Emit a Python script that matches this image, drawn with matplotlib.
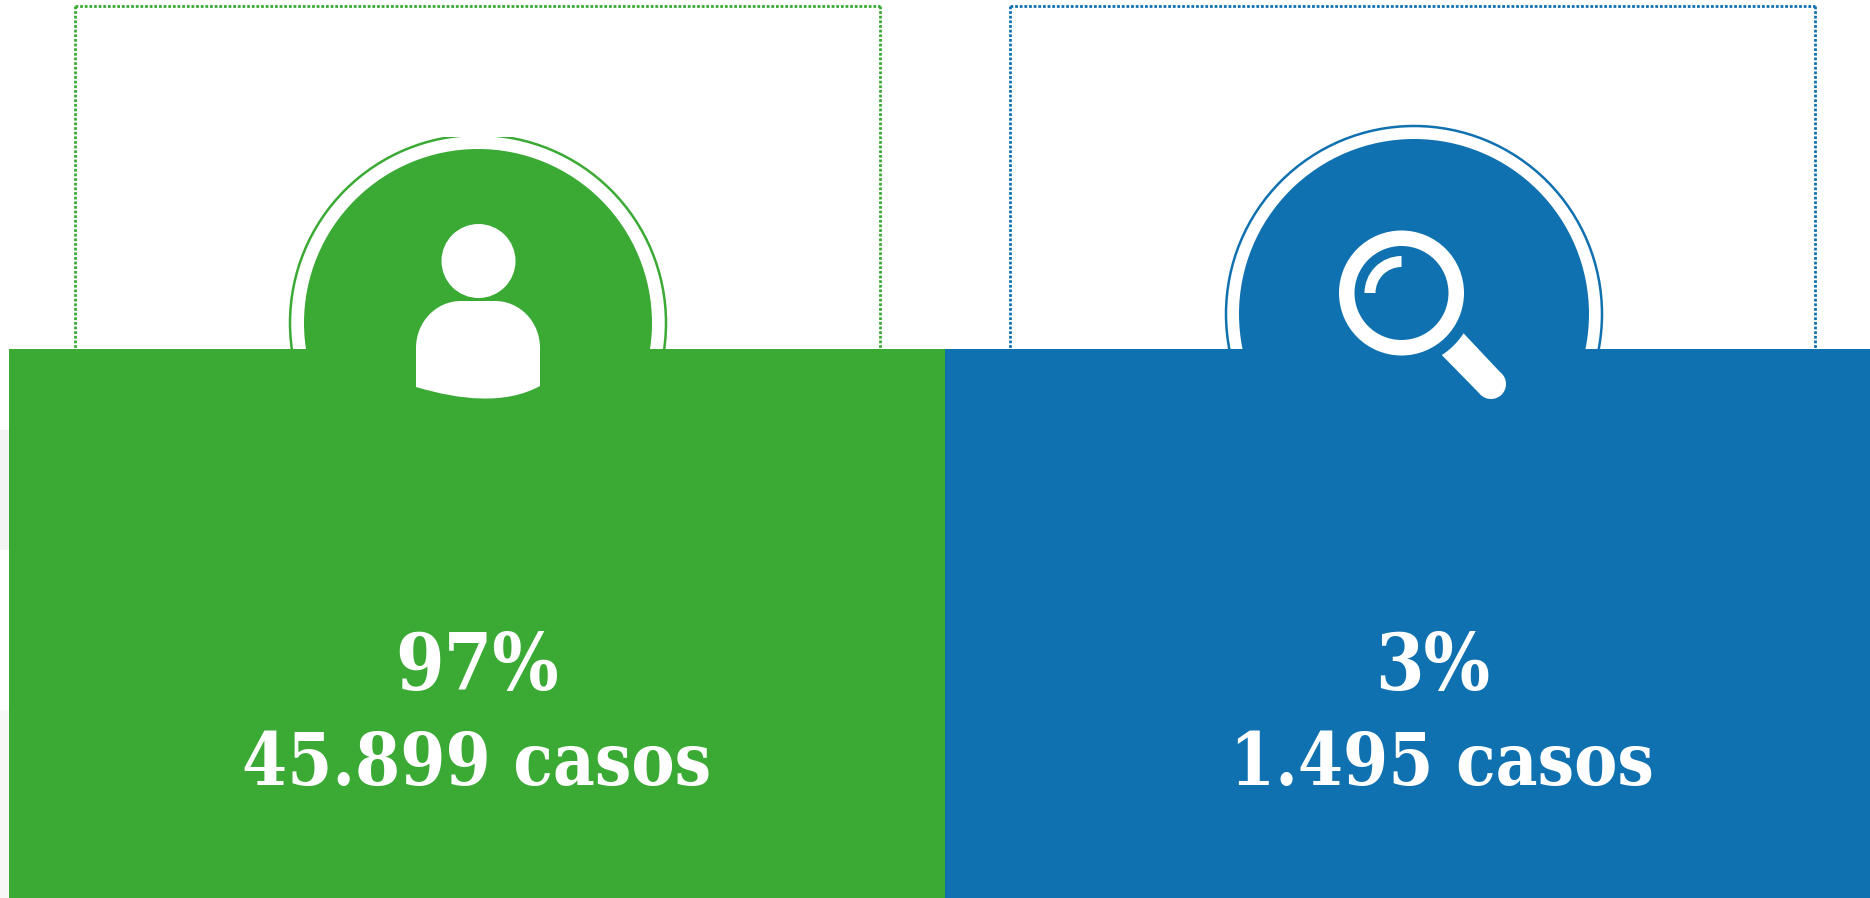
import matplotlib
matplotlib.use("Agg")
import matplotlib.pyplot as plt
import numpy as np
from matplotlib.patches import Rectangle, Circle, Wedge, PathPatch, Polygon
from matplotlib.path import Path

percent_labels = ["97%", "3%"]
case_labels = ["45.899 casos", "1.495 casos"]

GREEN = "#3AAA35"
BLUE = "#1071B0"
W, H = 1870, 898

fig = plt.figure(figsize=(18.70, 8.98), dpi=100, facecolor="white")
ax = fig.add_axes([0, 0, 1, 1])
ax.set_xlim(0, W)
ax.set_ylim(H, 0)
ax.axis("off")

# faint watermark remnants at the far left edge
ax.add_patch(Rectangle((0, 430), 9, 120, fc="#F4F4F4", ec="none", zorder=0))
ax.add_patch(Rectangle((0, 710), 9, 188, fc="#F7F7F7", ec="none", zorder=0))


def panel(px0, px1, bx0, bx1, color, cx, cy, ro, ro_cy, ri, clip_top, tx1, tx2, pct, cases):
    dots = (0, (1.0, 0.67))
    ax.plot([bx0, bx1], [5.5, 5.5], color=color, lw=2.0, ls=dots, zorder=1)
    ax.plot([bx0, bx0], [5.5, 349], color=color, lw=2.0, ls=dots, zorder=1)
    ax.plot([bx1, bx1], [5.5, 349], color=color, lw=2.0, ls=dots, zorder=1)
    ring = Circle((cx, ro_cy), ro, fc="none", ec=color, lw=1.8, zorder=2)
    ax.add_patch(ring)
    if clip_top:
        ring.set_clip_path(Rectangle((0, clip_top), W, H, transform=ax.transData))
    ax.add_patch(Circle((cx, cy), ri, fc=color, ec="none", zorder=3))
    ax.add_patch(Rectangle((px0, 349), px1 - px0, H - 349, fc=color, ec="none", zorder=3))
    ax.text(tx1, 690, pct, color="white", fontsize=56, family="DejaVu Serif",
            stretch="condensed", weight="bold", ha="center", va="baseline", zorder=5)
    ax.text(tx2, 785, cases, color="white", fontsize=52, family="DejaVu Serif",
            stretch="condensed", weight="bold", ha="center", va="baseline", zorder=5)


panel(9, 945, 74.5, 880, GREEN, 478, 323, 188, 323, 174, 137, 477, 477, percent_labels[0], case_labels[0])
panel(945, W, 1010, 1815, BLUE, 1414, 314, 188, 314, 175, None, 1432.5, 1442, percent_labels[1], case_labels[1])

# person icon
ax.add_patch(Circle((478.5, 261), 37, fc="white", ec="none", zorder=4))
body = [(416, 387), (416, 348), (416, 322), (436, 301), (461, 301), (495, 301),
        (520, 301), (540, 322), (540, 348), (540, 386), (505, 405), (460, 400), (416, 387)]
codes = [Path.MOVETO, Path.LINETO, Path.CURVE4, Path.CURVE4, Path.CURVE4, Path.LINETO,
         Path.CURVE4, Path.CURVE4, Path.CURVE4, Path.LINETO, Path.CURVE4, Path.CURVE4, Path.CURVE4]
ax.add_patch(PathPatch(Path(body, codes), fc="white", ec="none", zorder=4))

# magnifier icon
mx, my = 1401.5, 293
ax.add_patch(Wedge((mx, my), 62.5, 0, 360, width=15.5, fc="white", ec="none", zorder=4))
ax.add_patch(Wedge((mx, my), 37, 180, 270, width=11, fc="white", ec="none", zorder=4))
t = np.radians(np.linspace(57, 33, 12))
inner = [(mx + 74 * np.cos(a), my + 74 * np.sin(a)) for a in t]
ax.add_patch(Polygon(inner + [(1500, 372), (1479, 393)], closed=True, fc="white", ec="none", zorder=4))
ax.add_patch(Circle((1491, 384), 15, fc="white", ec="none", zorder=4))

fig.savefig("out.png", dpi=100, facecolor="white")
